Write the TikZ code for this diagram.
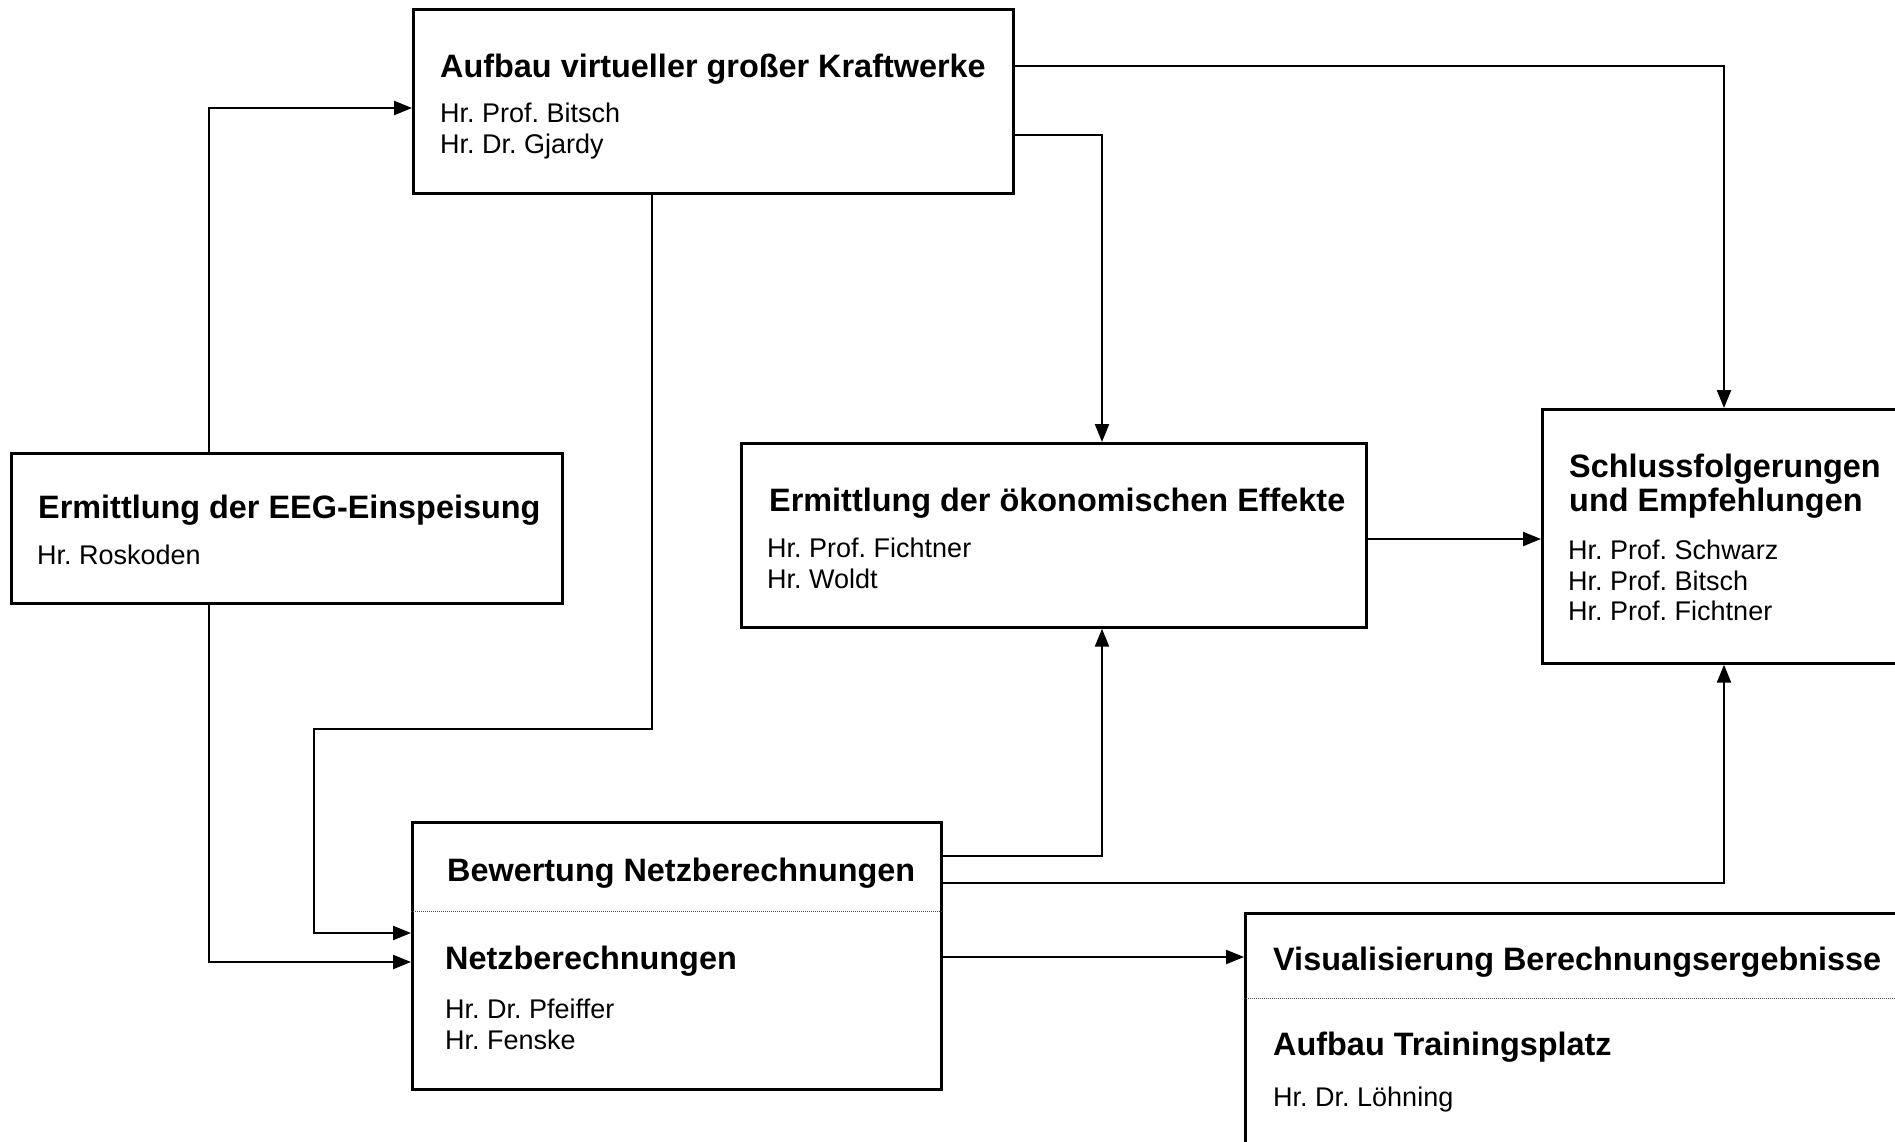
\documentclass[tikz,border=0pt]{standalone}
\usepackage{fontspec}
\setmainfont{Liberation Sans}
\usetikzlibrary{arrows.meta}
\tikzset{
  box/.style={draw, line width=2.7pt, rectangle, inner sep=0pt, anchor=north west},
  ttl/.style={font=\fontsize{32.4}{38}\selectfont\bfseries, anchor=base west, inner sep=0pt},
  ppl/.style={font=\fontsize{27}{31}\selectfont, anchor=base west, inner sep=0pt},
  conn/.style={line width=2.3pt, -{Triangle[length=18pt,width=14pt]}},
  sepline/.style={densely dotted, line width=1pt, black!70}
}
\begin{document}
\frenchspacing
\begin{tikzpicture}[x=1pt,y=-1pt]
\clip (0,0) rectangle (1895,1142);
\fill[white] (0,0) rectangle (1895,1142);

% boxes
\node[box, minimum width=600pt, minimum height=184pt] (A) at (412,8) {};
\node[box, minimum width=551pt, minimum height=150pt] (E) at (10,452) {};
\node[box, minimum width=625pt, minimum height=184pt] (O) at (740,442) {};
\node[box, minimum width=400pt, minimum height=254pt] (S) at (1541,408) {};
\node[box, minimum width=529pt, minimum height=267pt] (N) at (411,821) {};
\node[box, minimum width=700pt, minimum height=300pt] (V) at (1244,912) {};

% texts
\node[ttl] (At) at (440,78) {Aufbau virtueller großer Kraftwerke};
\node[ppl] (Ap1) at (440,123) {Hr. Prof. Bitsch};
\node[ppl] (Ap2) at (440,154) {Hr. Dr. Gjardy};

\node[ttl] (Et) at (38,518) {Ermittlung der EEG-Einspeisung};
\node[ppl] (Ep1) at (37,564) {Hr. Roskoden};

\node[ttl] (Ot) at (769,511) {Ermittlung der ökonomischen Effekte};
\node[ppl] (Op1) at (767,557) {Hr. Prof. Fichtner};
\node[ppl] (Op2) at (767,588) {Hr. Woldt};

\node[ttl] (St1) at (1569,477) {Schlussfolgerungen};
\node[ttl] (St2) at (1569,511) {und Empfehlungen};
\node[ppl] (Sp1) at (1568,559) {Hr. Prof. Schwarz};
\node[ppl] (Sp2) at (1568,590) {Hr. Prof. Bitsch};
\node[ppl] (Sp3) at (1568,620) {Hr. Prof. Fichtner};

\node[ttl] (Nt1) at (447,881) {Bewertung Netzberechnungen};
\node[ttl] (Nt2) at (445,969) {Netzberechnungen};
\node[ppl] (Np1) at (445,1018) {Hr. Dr. Pfeiffer};
\node[ppl] (Np2) at (445,1049) {Hr. Fenske};

\node[ttl] (Vt1) at (1273,970) {Visualisierung Berechnungsergebnisse};
\node[ttl] (Vt2) at (1273,1055) {Aufbau Trainingsplatz};
\node[ppl] (Vp1) at (1273,1106) {Hr. Dr. Löhning};

% helper coordinates
\coordinate (xa) at (209,0);
\coordinate (xb) at (652,0);
\coordinate (xc) at (314,0);
\coordinate (xd) at (1102,0);
\coordinate (xe) at (1724,0);
\coordinate (ya) at (0,108);
\coordinate (yb) at (0,729);
\coordinate (yc) at (0,933);
\coordinate (yd) at (0,962);
\coordinate (ye) at (0,66);
\coordinate (yf) at (0,135);
\coordinate (yg) at (0,856);
\coordinate (yh) at (0,883);
\coordinate (yi) at (0,539);
\coordinate (yj) at (0,957);
\coordinate (yk) at (0,911);
\coordinate (yl) at (0,998);

% dotted separators
\draw[sepline] (N.west |- yk) -- (N.east |- yk);
\draw[sepline] (V.west |- yl) -- (V.east |- yl);

% connectors
\draw[conn] (E.north -| xa) |- (A.west |- ya);
\draw[conn] (A.south -| xb) -- (xb |- yb) -| (xc |- yc) -- (N.west |- yc);
\draw[conn] (E.south -| xa) |- (N.west |- yd);
\draw[conn] (A.east |- ye) -| (S.north -| xe);
\draw[conn] (A.east |- yf) -| (O.north -| xd);
\draw[conn] (N.east |- yg) -| (O.south -| xd);
\draw[conn] (N.east |- yh) -| (S.south -| xe);
\draw[conn] (O.east |- yi) -- (S.west |- yi);
\draw[conn] (N.east |- yj) -- (V.west |- yj);
\end{tikzpicture}
\end{document}
